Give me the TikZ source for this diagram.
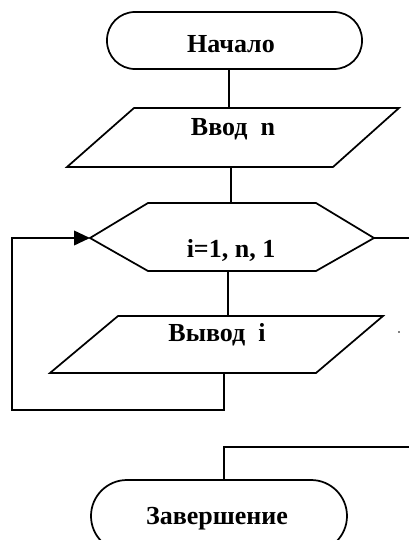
\documentclass[tikz,border=0pt]{standalone}
\usepackage{fontspec}
\setmainfont{Liberation Serif}
\usetikzlibrary{arrows.meta}
\tikzset{
  shape line/.style={line width=1.3pt, line join=miter},
  conn/.style={line width=1.3pt},
  lbl/.style={font=\fontsize{19.5}{23}\selectfont\bfseries, inner sep=0pt, anchor=base},
}
\begin{document}
\begin{tikzpicture}[x=0.75pt, y=-0.75pt]
\useasboundingbox (0,0) rectangle (409,540);
\clip (0,0) rectangle (409,540);
% start terminator
\draw[shape line, rounded corners=21pt] (107,12) rectangle (362,69);
\node[lbl] (start) at (231,52) {Начало};
\coordinate (startB) at (229,69);
% input parallelogram
\draw[shape line] (134,108) -- (399,108) -- (333,167) -- (67,167) -- cycle;
\node[lbl] (input) at (233,135) {Ввод\ \ n};
\coordinate (inT) at (229,108);
\coordinate (inB) at (231,167);
% loop hexagon
\draw[shape line] (148,203) -- (316,203) -- (374,238) -- (316,271) -- (148,271) -- (90,238) -- cycle;
\node[lbl] (loop) at (231,257) {i=1, n, 1};
\coordinate (loT) at (231,203);
\coordinate (loB) at (228,271);
\coordinate (loL) at (90,238);
\coordinate (loR) at (374,238);
\coordinate (loREnd) at (409,238);
% output parallelogram
\draw[shape line] (118,316) -- (383,316) -- (316,373) -- (50,373) -- cycle;
\node[lbl] (output) at (217,341) {Вывод\ \ i};
\coordinate (outT) at (228,316);
\coordinate (outB) at (224,373);
\coordinate (back1) at (224,410);
\coordinate (back2) at (12,410);
\coordinate (back3) at (12,238);
% stray dot
\fill (399,332) circle (0.9);
% exit line
\coordinate (ex1) at (409,447);
\coordinate (ex2) at (224,447);
\coordinate (endT) at (224,480);
% end terminator
\draw[shape line, rounded corners=27pt] (91,480) rectangle (347,552);
\node[lbl] (end) at (217,524) {Завершение};
% connectors
\draw[conn] (startB) -- (inT);
\draw[conn] (inB) -- (loT);
\draw[conn] (loB) -- (outT);
\draw[conn] (loR) -- (loREnd);
\draw[conn, -{Triangle[length=12pt,width=11pt]}] (outB) -- (back1) -- (back2) -- (back3) -- (loL);
\draw[conn] (ex1) -- (ex2) -- (endT);
\end{tikzpicture}
\end{document}
